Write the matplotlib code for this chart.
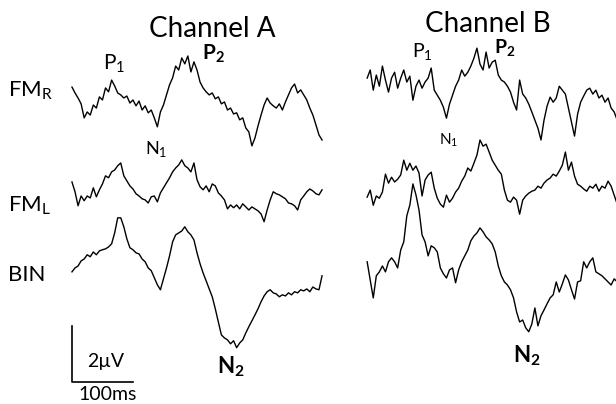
import matplotlib.pyplot as plt
import numpy as np

plt.rcParams['font.family'] = ['Lato', 'DejaVu Sans']
plt.rcParams['mathtext.fontset'] = 'custom'
plt.rcParams['mathtext.rm'] = 'Lato'
plt.rcParams['mathtext.bf'] = 'Lato:bold'

# sample times (ms) for every trace
t = np.arange(0, 411, 5)

# channel A, amplitudes in uV
a_fmr = [0.46, 0.25, 0.07, -0.14, -0.64, -0.43, -0.54, -0.18, -0.29, 0.11,
         0.0, 0.43, 0.29, 0.71, 0.5, 0.25, 0.18, 0.07, 0.14, -0.11,
         0.0, -0.21, -0.04, -0.36, -0.21, -0.46, -0.36, -0.64, -0.96, -0.43,
         -0.18, 0.18, 0.54, 0.79, 1.21, 1.07, 1.5, 1.29, 1.57, 1.0,
         1.36, 1.07, 0.64, 0.43, 0.29, 0.18, 0.25, 0.04, 0.11, -0.14,
         -0.07, -0.36, -0.29, -0.5, -0.46, -0.71, -0.64, -1.0, -1.14, -1.64,
         -1.36, -0.93, -0.54, -0.18, 0.07, -0.11, -0.21, -0.29, -0.14, -0.36,
         -0.07, 0.18, 0.43, 0.57, 0.25, 0.36, 0.18, 0.0, -0.29, -0.54,
         -0.89, -1.25, -1.43]
a_fml = [0.46, 0.11, -0.39, -0.04, -0.21, -0.04, -0.11, 0.25, -0.07, 0.18,
         0.39, 0.68, 0.61, 0.82, 0.89, 1.04, 1.14, 0.68, 0.5, 0.32,
         0.21, 0.04, -0.04, -0.14, -0.18, -0.29, -0.07, -0.04, -0.25, 0.07,
         0.25, 0.43, 0.61, 0.82, 0.96, 1.07, 1.25, 1.04, 0.96, 0.82,
         1.14, 0.54, 0.29, 0.18, 0.32, 0.11, 0.39, 0.32, 0.07, -0.04,
         -0.18, -0.5, -0.36, -0.46, -0.36, -0.5, -0.32, -0.43, -0.54, -0.43,
         -0.5, -0.57, -0.68, -0.96, -0.54, -0.18, 0.11, 0.04, 0.0, -0.07,
         -0.14, -0.29, -0.32, -0.39, -0.54, -0.18, -0.04, 0.11, 0.21, 0.14,
         0.04, 0.0, 0.18]
a_bin = [-0.25, -0.11, -0.04, 0.14, 0.21, 0.36, 0.29, 0.46, 0.36, 0.5,
         0.54, 0.57, 0.64, 0.75, 1.14, 1.68, 1.68, 1.36, 0.93, 0.61,
         0.54, 0.43, 0.39, 0.21, 0.11, -0.11, -0.21, -0.46, -0.71, -0.89,
         -0.5, -0.11, 0.32, 0.82, 1.07, 1.14, 1.21, 1.36, 1.18, 1.07,
         0.89, 0.43, 0.04, -0.29, -0.57, -0.86, -1.14, -1.57, -2.04, -2.5,
         -2.61, -2.68, -2.82, -2.71, -2.96, -2.79, -2.68, -2.43, -2.21, -2.0,
         -1.79, -1.57, -1.32, -1.11, -0.96, -0.89, -1.0, -1.04, -1.14, -1.07,
         -1.11, -1.0, -1.07, -0.96, -1.0, -0.89, -0.93, -0.86, -0.96, -0.79,
         -0.86, -0.89, -0.39]

# channel B
b_fmr = [0.25, 0.54, -0.18, 0.36, -0.04, 0.68, 0.18, -0.25, 0.25, 0.46,
         -0.11, 0.25, 0.54, 0.11, 0.32, -0.54, -0.04, 0.18, -0.11, 0.11,
         0.25, 0.61, -0.18, -0.36, -0.54, -0.79, -1.18, -0.68, -0.36, -0.04,
         0.18, 0.54, 0.32, 0.46, 0.68, 0.96, 1.32, 0.75, 0.54, 1.18,
         0.61, 0.82, 0.89, 0.36, 0.18, 0.11, -0.04, -0.25, -0.61, -0.89,
         0.18, -0.32, -0.46, -0.68, -0.96, -1.25, -1.54, -1.96, -1.25, -0.75,
         -0.43, -0.61, -0.46, -0.04, -0.18, -0.32, -0.82, -1.32, -1.82, -1.04,
         -0.61, -0.39, -0.18, -0.11, -0.32, -0.18, -0.46, -0.36, -0.61, -0.46,
         -0.82, -0.96, -1.25]
b_fml = [-0.25, 0.0, -0.54, -0.21, -0.29, -0.07, 0.57, 0.25, 0.46, 0.29,
         0.39, 0.54, 1.07, 0.71, 0.96, 0.71, 0.86, 0.61, -0.21, 0.36,
         0.54, 0.64, 0.07, -0.29, -0.5, -0.61, -0.18, -0.43, -0.29, -0.07,
         0.07, 0.32, 0.5, 0.79, 0.68, 0.96, 1.25, 1.79, 1.57, 1.64,
         1.36, 1.07, 0.89, 0.71, 0.57, 0.0, -0.36, -0.43, -0.25, -0.36,
         -0.86, -0.36, -0.21, -0.11, -0.04, 0.0, 0.14, 0.07, 0.25, 0.36,
         0.43, 0.57, 0.5, 0.68, 0.89, 1.36, 0.71, 1.0, 0.5, 0.21,
         0.14, 0.04, -0.04, 0.14, 0.07, 0.21, -0.04, 0.14, 0.07, 0.32,
         0.14, -0.18, -0.5]
b_bin = [0.29, -0.36, -1.0, -0.21, -0.07, 0.14, -0.07, 0.29, 0.43, 0.29,
         0.07, 0.71, 1.0, 1.93, 2.32, 3.07, 2.68, 2.14, 1.25, 1.0,
         0.5, 0.86, 0.79, 0.64, 0.07, -0.14, -0.29, 0.0, 0.07, -0.46,
         0.0, 0.29, 0.5, 0.71, 1.04, 1.21, 1.32, 1.5, 1.36, 1.18,
         1.07, 0.93, 0.64, 0.14, -0.21, -0.43, -0.54, -0.71, -1.0, -1.5,
         -1.86, -1.79, -2.07, -2.21, -1.93, -1.36, -2.0, -1.64, -1.43, -1.21,
         -1.0, -0.89, -0.43, -0.79, -0.5, -0.18, -0.36, -0.71, -1.04, -0.43,
         -0.39, 0.29, 0.07, 0.29, 0.43, -0.07, -0.14, -0.21, -0.32, -0.43,
         -0.54, -0.32, -0.43]

traces_a = [a_fmr, a_fml, a_bin]
traces_b = [b_fmr, b_fml, b_bin]

fig = plt.figure(figsize=(6.16, 4.04), dpi=100)
ax = fig.add_axes([0, 0, 1, 1])
ax.set_xlim(-118, 892)
ax.set_ylim(-14.43, 0)
ax.axis('off')

# vertical placement of each row (uV) and start of channel B (ms)
rows_a = [-3.57, -6.96, -9.46]
rows_b = [-3.04, -6.79, -9.64]
shift_b = 484

for vals, off in zip(traces_a, rows_a):
    ax.plot(t, np.array(vals) + off, color='black', lw=1.0)
for vals, off in zip(traces_b, rows_b):
    ax.plot(t + shift_b, np.array(vals) + off, color='black', lw=1.0)

# scale bar: 2 uV x 100 ms
ax.plot([0, 0, 100], [-11.64, -13.64, -13.64], color='black', lw=1.2)


def put(px, py, s, **kw):
    fig.text(px / 616, 1 - py / 404, s, va='baseline', **kw)


put(212, 37, 'Channel A', fontsize=20, ha='center')
put(488, 32, 'Channel B', fontsize=20, ha='center')

put(8, 96, r'FM$_\mathrm{R}$', fontsize=16)
put(8, 211, r'FM$_\mathrm{L}$', fontsize=16)
put(8, 281, 'BIN', fontsize=16)

put(103, 69, r'P$_1$', fontsize=15)
put(202, 60, r'$\mathbf{P_2}$', fontsize=15)
put(145, 154, r'N$_1$', fontsize=13)
put(217, 373, r'$\mathbf{N_2}$', fontsize=16)

put(412, 58, r'P$_1$', fontsize=14)
put(494, 53, r'$\mathbf{P_2}$', fontsize=14)
put(439, 144, r'N$_1$', fontsize=11)
put(513, 362, r'$\mathbf{N_2}$', fontsize=16)

put(87, 367, '2µV', fontsize=14)
put(78, 400, '100ms', fontsize=14)

fig.savefig('out.png', dpi=100)
